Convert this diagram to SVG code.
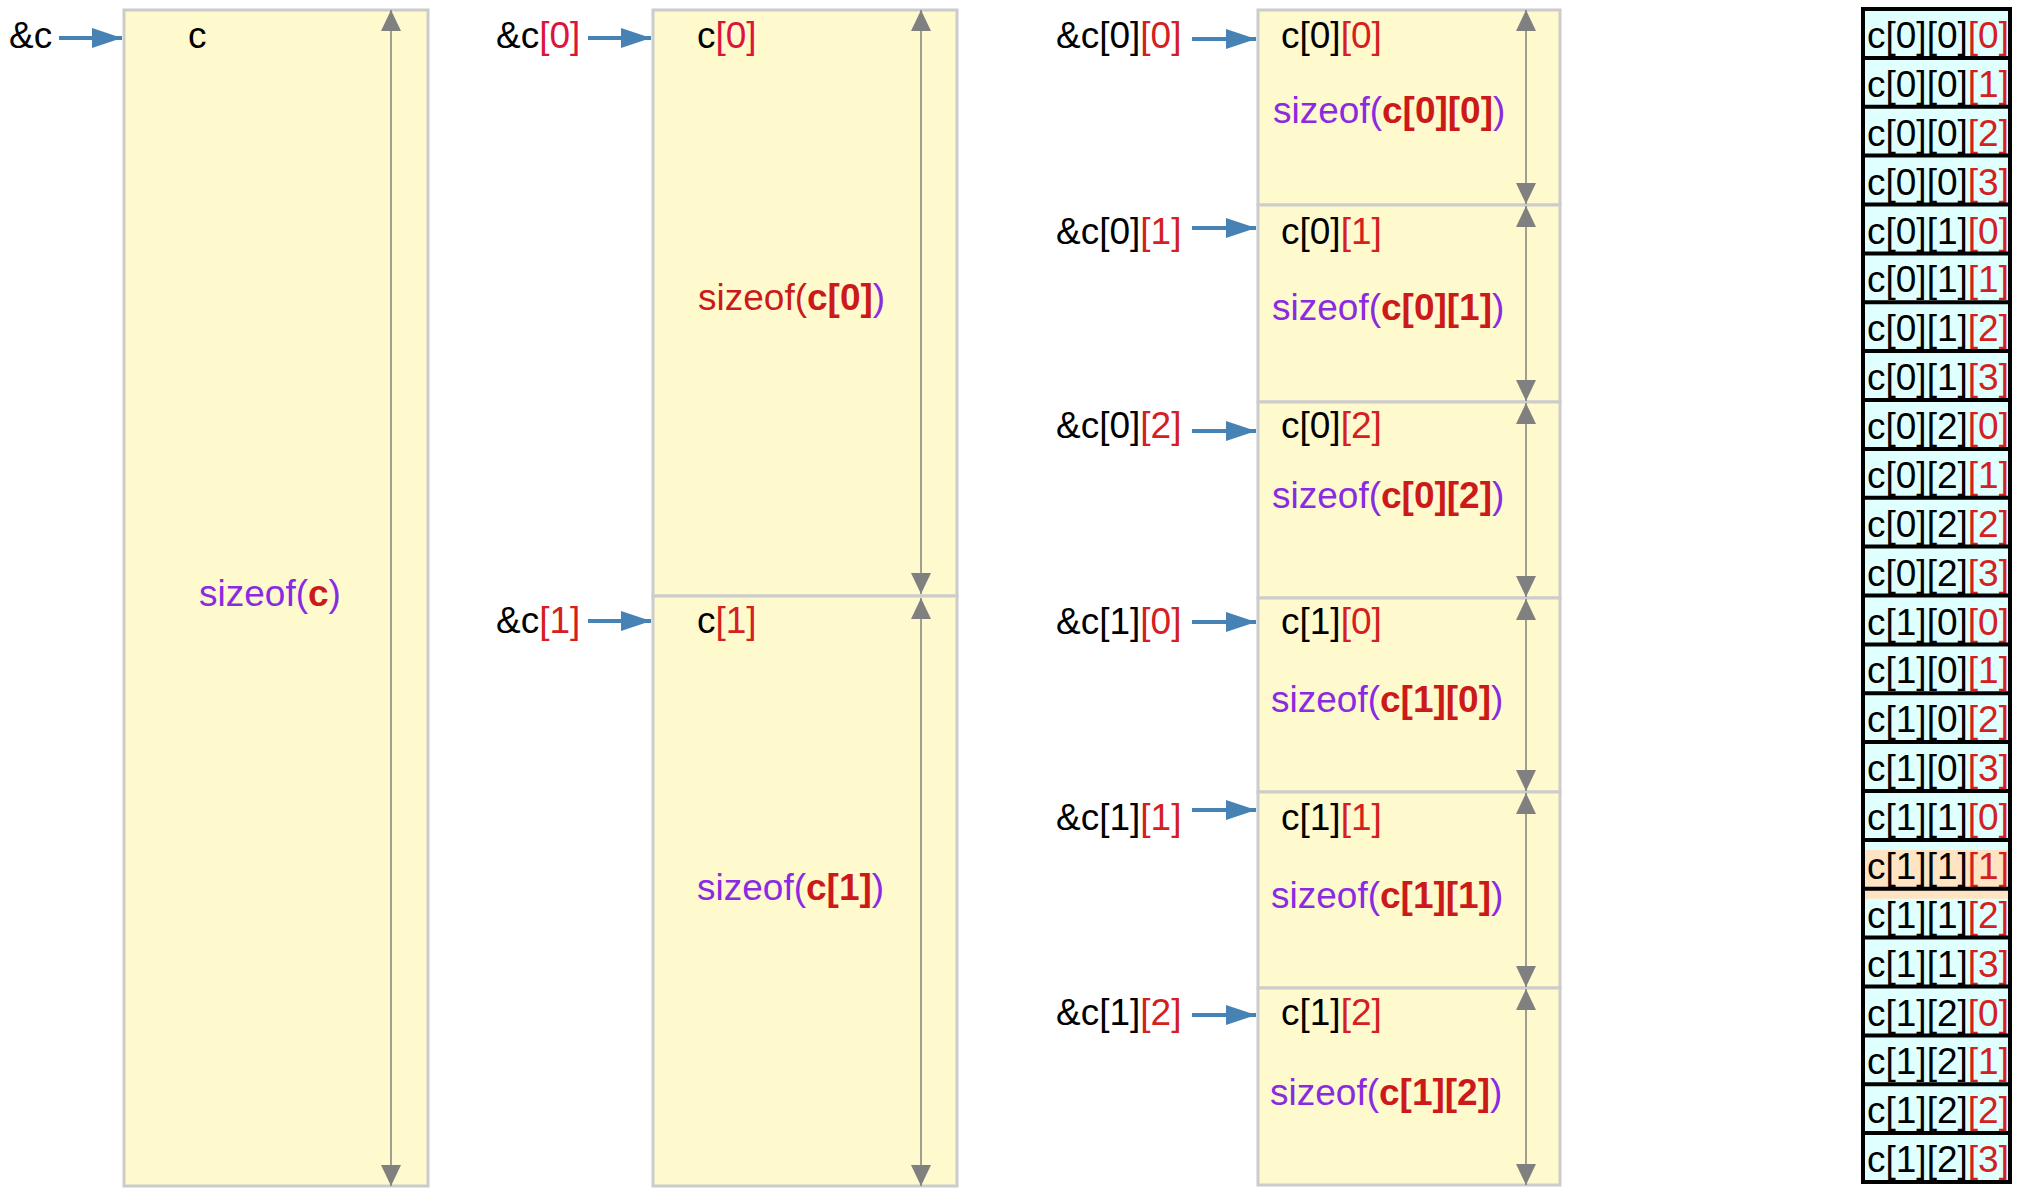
<svg xmlns="http://www.w3.org/2000/svg" width="2019" height="1188" viewBox="0 0 2019 1188">
<style>
text{font-family:"Liberation Sans",Arial,sans-serif;font-size:37px;fill:#000}
.box{fill:#fffacd;stroke:#cccccc;stroke-width:3}
.r{fill:#d42020}
.cr{fill:#dc143c}
.p{fill:#8a2be2}
.b{font-weight:bold;fill:#cc1a1a}
.blue{stroke:#4682b4;stroke-width:4;fill:none;marker-end:url(#bh)}
.gray{stroke:#808080;stroke-width:1.5;fill:none;marker-start:url(#gh);marker-end:url(#gh)}
.hl{fill:#ffe4c4}
.ct{font-size:37px}
</style>
<defs>
<marker id="bh" viewBox="0 0 30 20" refX="30" refY="10" markerWidth="30" markerHeight="20" markerUnits="userSpaceOnUse" orient="auto"><path d="M0,0 L30,10 L0,20 z" fill="#4682b4"/></marker>
<marker id="gh" viewBox="0 0 21 20" refX="21" refY="10" markerWidth="21" markerHeight="20" markerUnits="userSpaceOnUse" orient="auto-start-reverse"><path d="M0,0 L21,10 L0,20 z" fill="#808080"/></marker>
<clipPath id="colclip"><rect x="1863" y="9" width="147" height="1173"/></clipPath>
</defs>

<g id="col1">
<rect class="box" x="124" y="10" width="304" height="1176"/>
<text x="9" y="48">&amp;c</text>
<text x="188" y="48">c</text>
<text x="199" y="606"><tspan class="p">sizeof(</tspan><tspan class="b">c</tspan><tspan class="p">)</tspan></text>
</g>

<g id="col2-0">
<rect class="box" x="653" y="10" width="304" height="586"/>
<text x="496" y="48">&amp;c<tspan class="cr">[0]</tspan></text>
<text x="697" y="48">c<tspan class="cr">[0]</tspan></text>
<text x="698" y="310"><tspan class="b" style="font-weight:normal">sizeof(</tspan><tspan class="b">c[0]</tspan><tspan class="p">)</tspan></text>
</g>
<g id="col2-1">
<rect class="box" x="653" y="596" width="304" height="590"/>
<text x="496" y="633">&amp;c<tspan class="r">[1]</tspan></text>
<text x="697" y="633">c<tspan class="r">[1]</tspan></text>
<text x="697" y="900"><tspan class="p">sizeof(</tspan><tspan class="b">c[1]</tspan><tspan class="p">)</tspan></text>
</g>

<g id="col3-00">
<rect class="box" x="1258" y="10" width="302" height="195"/>
<text x="1056" y="48">&amp;c[0]<tspan class="r">[0]</tspan></text>
<text x="1281" y="48">c[0]<tspan class="r">[0]</tspan></text>
<text x="1273" y="123"><tspan class="p">sizeof(</tspan><tspan class="b">c[0][0]</tspan><tspan class="p">)</tspan></text>
</g>
<g id="col3-01">
<rect class="box" x="1258" y="205" width="302" height="197"/>
<text x="1056" y="244">&amp;c[0]<tspan class="r">[1]</tspan></text>
<text x="1281" y="244">c[0]<tspan class="r">[1]</tspan></text>
<text x="1272" y="320"><tspan class="p">sizeof(</tspan><tspan class="b">c[0][1]</tspan><tspan class="p">)</tspan></text>
</g>
<g id="col3-02">
<rect class="box" x="1258" y="402" width="302" height="196"/>
<text x="1056" y="438">&amp;c[0]<tspan class="r">[2]</tspan></text>
<text x="1281" y="438">c[0]<tspan class="r">[2]</tspan></text>
<text x="1272" y="508"><tspan class="p">sizeof(</tspan><tspan class="b">c[0][2]</tspan><tspan class="p">)</tspan></text>
</g>
<g id="col3-10">
<rect class="box" x="1258" y="598" width="302" height="194"/>
<text x="1056" y="634">&amp;c[1]<tspan class="r">[0]</tspan></text>
<text x="1281" y="634">c[1]<tspan class="r">[0]</tspan></text>
<text x="1271" y="712"><tspan class="p">sizeof(</tspan><tspan class="b">c[1][0]</tspan><tspan class="p">)</tspan></text>
</g>
<g id="col3-11">
<rect class="box" x="1258" y="792" width="302" height="196"/>
<text x="1056" y="830">&amp;c[1]<tspan class="r">[1]</tspan></text>
<text x="1281" y="830">c[1]<tspan class="r">[1]</tspan></text>
<text x="1271" y="908"><tspan class="p">sizeof(</tspan><tspan class="b">c[1][1]</tspan><tspan class="p">)</tspan></text>
</g>
<g id="col3-12">
<rect class="box" x="1258" y="988" width="302" height="197"/>
<text x="1056" y="1025">&amp;c[1]<tspan class="r">[2]</tspan></text>
<text x="1281" y="1025">c[1]<tspan class="r">[2]</tspan></text>
<text x="1270" y="1105"><tspan class="p">sizeof(</tspan><tspan class="b">c[1][2]</tspan><tspan class="p">)</tspan></text>
</g>

<g id="memory">
<g clip-path="url(#colclip)">
<rect x="1863" y="9" width="147" height="1173" fill="#e0ffff"/>
<rect class="hl" x="1863" y="849.9" width="147" height="48.9"/>
<text class="ct" x="1867" y="48">c[0][0]<tspan class="r">[0]</tspan></text>
<text class="ct" x="1867" y="96.9">c[0][0]<tspan class="r">[1]</tspan></text>
<text class="ct" x="1867" y="145.8">c[0][0]<tspan class="r">[2]</tspan></text>
<text class="ct" x="1867" y="194.6">c[0][0]<tspan class="r">[3]</tspan></text>
<text class="ct" x="1867" y="243.5">c[0][1]<tspan class="r">[0]</tspan></text>
<text class="ct" x="1867" y="292.4">c[0][1]<tspan class="r">[1]</tspan></text>
<text class="ct" x="1867" y="341.3">c[0][1]<tspan class="r">[2]</tspan></text>
<text class="ct" x="1867" y="390.1">c[0][1]<tspan class="r">[3]</tspan></text>
<text class="ct" x="1867" y="439">c[0][2]<tspan class="r">[0]</tspan></text>
<text class="ct" x="1867" y="487.9">c[0][2]<tspan class="r">[1]</tspan></text>
<text class="ct" x="1867" y="536.8">c[0][2]<tspan class="r">[2]</tspan></text>
<text class="ct" x="1867" y="585.6">c[0][2]<tspan class="r">[3]</tspan></text>
<text class="ct" x="1867" y="634.5">c[1][0]<tspan class="r">[0]</tspan></text>
<text class="ct" x="1867" y="683.4">c[1][0]<tspan class="r">[1]</tspan></text>
<text class="ct" x="1867" y="732.3">c[1][0]<tspan class="r">[2]</tspan></text>
<text class="ct" x="1867" y="781.1">c[1][0]<tspan class="r">[3]</tspan></text>
<text class="ct" x="1867" y="830">c[1][1]<tspan class="r">[0]</tspan></text>
<text class="ct" x="1867" y="878.9">c[1][1]<tspan class="r">[1]</tspan></text>
<text class="ct" x="1867" y="927.8">c[1][1]<tspan class="r">[2]</tspan></text>
<text class="ct" x="1867" y="976.6">c[1][1]<tspan class="r">[3]</tspan></text>
<text class="ct" x="1867" y="1025.5">c[1][2]<tspan class="r">[0]</tspan></text>
<text class="ct" x="1867" y="1074.4">c[1][2]<tspan class="r">[1]</tspan></text>
<text class="ct" x="1867" y="1123.3">c[1][2]<tspan class="r">[2]</tspan></text>
<text class="ct" x="1867" y="1172.1">c[1][2]<tspan class="r">[3]</tspan></text>
</g>
<g fill="none" stroke="#000" stroke-width="4">
<rect x="1863" y="9" width="147" height="1173"/>
<path d="M1863,57.9H2010M1863,106.8H2010M1863,155.6H2010M1863,204.5H2010M1863,253.4H2010M1863,302.3H2010M1863,351.1H2010M1863,400H2010M1863,448.9H2010M1863,497.8H2010M1863,546.6H2010M1863,595.5H2010M1863,644.4H2010M1863,693.3H2010M1863,742.1H2010M1863,791H2010M1863,839.9H2010M1863,888.8H2010M1863,937.6H2010M1863,986.5H2010M1863,1035.4H2010M1863,1084.3H2010M1863,1133.1H2010"/>
</g>
</g>

<g id="connectors">
<line class="blue" x1="59" y1="38" x2="122" y2="38"/>
<line class="blue" x1="588" y1="38" x2="651" y2="38"/>
<line class="blue" x1="588" y1="621" x2="651" y2="621"/>
<line class="blue" x1="1192" y1="39" x2="1256" y2="39"/>
<line class="blue" x1="1192" y1="228" x2="1256" y2="228"/>
<line class="blue" x1="1192" y1="431" x2="1256" y2="431"/>
<line class="blue" x1="1192" y1="622" x2="1256" y2="622"/>
<line class="blue" x1="1192" y1="810" x2="1256" y2="810"/>
<line class="blue" x1="1192" y1="1015" x2="1256" y2="1015"/>
<line class="gray" x1="391" y1="10" x2="391" y2="1186"/>
<line class="gray" x1="921" y1="10" x2="921" y2="594"/>
<line class="gray" x1="921" y1="598" x2="921" y2="1186"/>
<line class="gray" x1="1526" y1="10" x2="1526" y2="204"/>
<line class="gray" x1="1526" y1="206" x2="1526" y2="401"/>
<line class="gray" x1="1526" y1="403" x2="1526" y2="597"/>
<line class="gray" x1="1526" y1="599" x2="1526" y2="791"/>
<line class="gray" x1="1526" y1="793" x2="1526" y2="987"/>
<line class="gray" x1="1526" y1="989" x2="1526" y2="1185"/>
</g>
</svg>
